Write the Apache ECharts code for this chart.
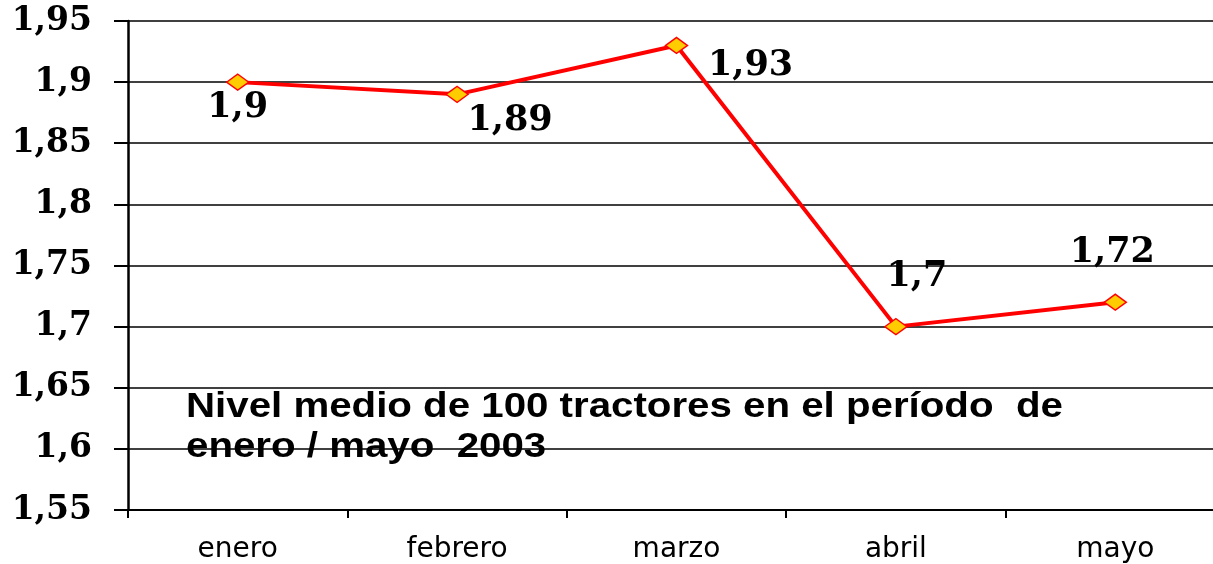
<!DOCTYPE html>
<html>
<head>
<meta charset="utf-8">
<script src="https://cdn.jsdelivr.net/npm/echarts@6/dist/echarts.min.js"></script>
<style>
html,body{margin:0;padding:0;background:#fff;}
#c{width:1213px;height:564px;}
</style>
</head>
<body>
<div id="c"></div>
<script>
var categories = ['enero', 'febrero', 'marzo', 'abril', 'mayo'];
var values = [1.9, 1.89, 1.93, 1.7, 1.72];
var valueLabels = ['1,9', '1,89', '1,93', '1,7', '1,72'];
var yTickLabels = ['1,55', '1,6', '1,65', '1,7', '1,75', '1,8', '1,85', '1,9', '1,95'];
var titleLines = ['Nivel medio de 100 tractores en el período  de', 'enero / mayo  2003'];

var labelOffsets = [[0, 26], [53, 27], [74, 20], [21, -50], [-3, -49]];

var chart = echarts.init(document.getElementById('c'));
var yMin = 1.55, yStep = 0.05;
chart.setOption({
  animation: false,
  backgroundColor: '#fff',
  grid: { left: 128, top: 21, bottom: 54, right: -12, containLabel: false, outerBoundsMode: 'none' },
  graphic: [{
    type: 'text',
    left: 186, top: 387,
    scaleX: 1.15,
    originX: 0, originY: 0,
    style: {
      text: titleLines.join('\n'),
      font: 'bold 35px "Liberation Sans", Arial',
      fill: '#000',
      lineHeight: 40
    },
    z: 10
  }],
  xAxis: {
    type: 'category',
    data: categories,
    boundaryGap: true,
    axisLine: { lineStyle: { color: '#000', width: 2 } },
    axisTick: { show: true, length: 8, alignWithLabel: false, lineStyle: { color: '#000', width: 2 } },
    axisLabel: { color: '#000', fontFamily: 'DejaVu Sans', fontSize: 28, margin: 26 }
  },
  yAxis: {
    type: 'value',
    min: yMin, max: 1.95, interval: yStep,
    axisLine: { show: true, lineStyle: { color: '#000', width: 2.5 } },
    axisTick: { show: true, length: 14, lineStyle: { color: '#000', width: 2 } },
    splitLine: { show: true, lineStyle: { color: '#000', width: 1.5 } },
    axisLabel: {
      color: '#000', fontFamily: 'DejaVu Serif', fontWeight: 'bold', fontSize: 33, margin: 36,
      padding: [4, 0, 0, 0],
      formatter: function (v) {
        var i = Math.round((v - yMin) / yStep);
        return yTickLabels[i] !== undefined ? yTickLabels[i] : '';
      }
    }
  },
  series: [{
    type: 'line',
    data: values.map(function (v, i) {
      return {
        value: v,
        label: { show: true, position: 'inside', offset: labelOffsets[i], formatter: valueLabels[i] }
      };
    }),
    lineStyle: { color: '#ff0000', width: 4 },
    symbol: 'diamond',
    symbolSize: [22, 16],
    itemStyle: { color: '#ffcc00', borderColor: '#ff0000', borderWidth: 1.5 },
    label: {
      color: '#000', fontFamily: 'DejaVu Serif', fontWeight: 'bold', fontSize: 35,
      align: 'center', verticalAlign: 'middle'
    },
    z: 5
  }]
});
</script>
</body>
</html>
